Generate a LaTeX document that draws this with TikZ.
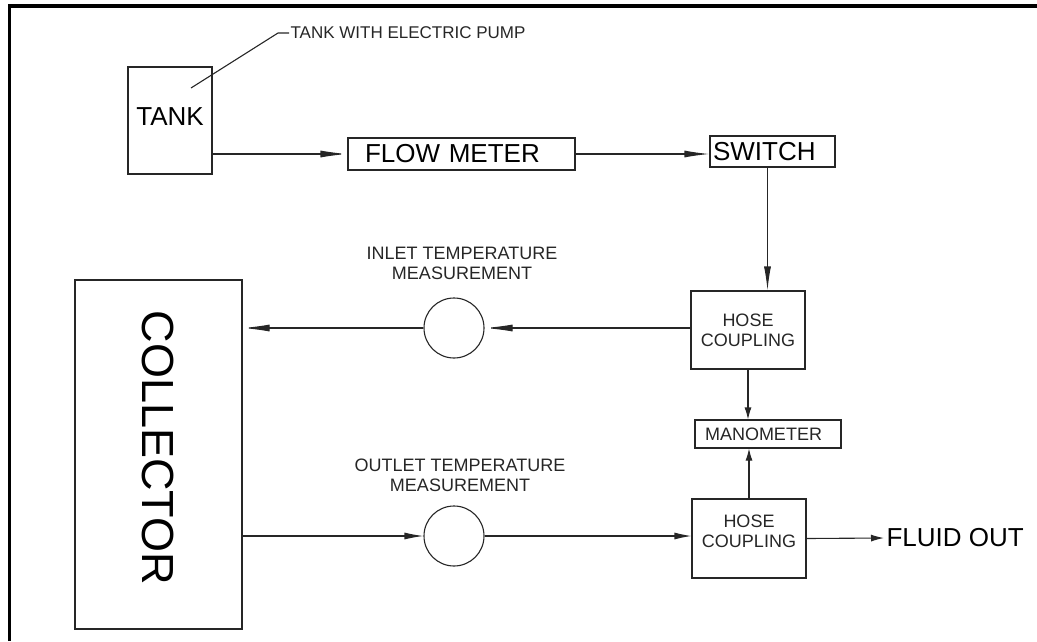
\documentclass[tikz,border=0pt]{standalone}
\usepackage{fontspec}
\setmainfont{Liberation Sans}
\usepackage{tikz}
\usetikzlibrary{arrows.meta, calc}

\begin{document}
\begin{tikzpicture}[x=1pt,y=-1pt,
    line width=1.1pt, draw=black!85,
    box/.style={draw, inner sep=0pt, minimum width=#1},
    big/.style={font=\fontsize{26pt}{28pt}\selectfont},
    small/.style={font=\fontsize{18pt}{20pt}\selectfont, text=black!85},
    arr/.style={-{Latex[length=#1,width=7pt]}}, arr/.default=25pt]
  \useasboundingbox (0,0) rectangle (1037,641);
  \draw[line width=3.5pt,black] (9.5,641) -- (9.5,6) -- (1037,6);
  \node[box=84pt, minimum height=107pt, big, text height=19pt, text depth=10pt] (tank) at (170,120.5) {TANK};
  \node[box=227pt, minimum height=32pt, big, inner xsep=17pt, text width=193pt, align=left] (flowm) at (461.5,154) {FLOW METER};
  \node[box=125pt, minimum height=31pt, big, inner xsep=3pt, text width=119pt, align=left] (switch) at (772.5,151.5) {SWITCH};
  \node[box=114pt, minimum height=78pt, small, align=center] (hose1) at (748,330) {HOSE\\COUPLING};
  \node[box=146pt, minimum height=28pt, small, inner xsep=10pt, text width=126pt, align=left] (manom) at (768,434) {MANOMETER};
  \node[box=114pt, minimum height=79pt, small, align=center] (hose2) at (749,538.5) {HOSE\\COUPLING\\[-6pt]};
  \node[box=167pt, minimum height=349pt] (coll) at (158.5,454.5) {};
  \node[rotate=-90, font=\fontsize{45pt}{48pt}\selectfont] (colltext) at (157.5,448) {COLLECTOR};
  \node[draw, circle, inner sep=0pt, minimum size=60pt] (inlet) at (454,328) {};
  \node[draw, circle, inner sep=0pt, minimum size=60pt] (outlet) at (454,536) {};
  \node[small, align=center] (inletlab) at (462,263) {INLET TEMPERATURE\\MEASUREMENT};
  \node[small, align=center] (outletlab) at (460,475) {OUTLET TEMPERATURE\\MEASUREMENT};
  \node[big, anchor=west, inner sep=2pt] (fluid) at (884,538) {FLUID OUT};
  \node[font=\fontsize{17pt}{19pt}\selectfont, text=black!85, anchor=west, inner sep=1pt] (tankpump) at (289,33) {TANK WITH ELECTRIC PUMP};
  \coordinate (lead) at (191,88);
  \draw (lead) -- ++(87,-55) -- (tankpump.west);
  \draw[arr=27pt] (tank.east |- flowm) -- (flowm.west);
  \draw[arr] (flowm.east) -- (flowm.east -| switch.west);
  \draw[arr=24pt] ([xshift=-5pt]switch.south) -- ([xshift=-5pt]switch.south |- hose1.north);
  \draw[arr=28pt] (hose1.west |- inlet) -- (inlet.east);
  \draw[arr=27pt] (inlet.west) -- (inlet.west -| coll.east);
  \draw[arr=19pt] (coll.east |- outlet) -- (outlet.west);
  \draw[arr=17pt] (outlet.east) -- (outlet.east -| hose2.west);
  \draw[arr=12pt] (hose1.south) -- (hose1.south |- manom.north);
  \draw[arr=12pt] (hose2.north) -- (hose2.north |- manom.south);
  \draw[arr=13pt] (hose2.east) -- (fluid.west);
\end{tikzpicture}
\end{document}
